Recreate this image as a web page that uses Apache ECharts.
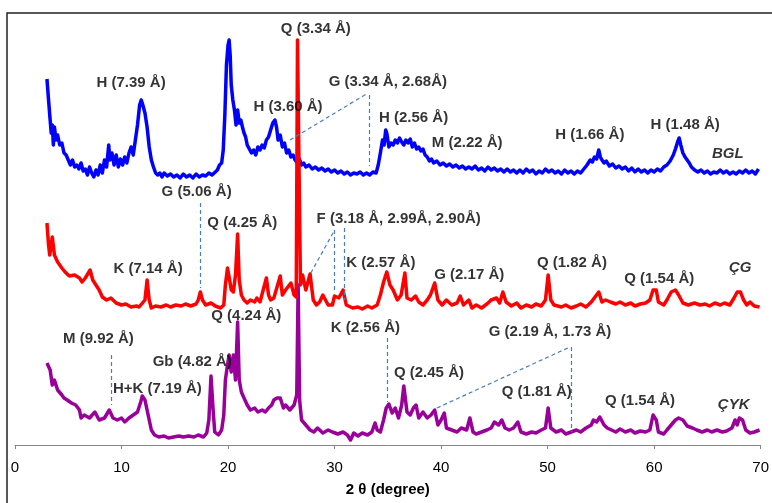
<!DOCTYPE html>
<html>
<head>
<meta charset="utf-8">
<script src="https://cdn.jsdelivr.net/npm/echarts@6/dist/echarts.min.js"></script>
<style>
  html, body { margin: 0; padding: 0; background: #fff; }
  #chart { width: 772px; height: 503px; }
</style>
</head>
<body>
<div id="chart"></div>
<script>
// 2θ (degree) vs intensity (arbitrary, offset traces)
const bglData = [
  [3.0,366],[3.15,345],[3.3,325],[3.4,312],[3.5,320],[3.6,300],[3.7,318],[3.85,305],[4.0,310],[4.2,300],
  [4.4,302],[4.6,292],[4.8,290],[5.0,285],[5.2,280],[5.4,285],[5.6,278],[5.8,280],[6.0,276],[6.2,282],
  [6.4,274],[6.6,276],[6.8,270],[7.0,278],[7.2,272],[7.4,268],[7.6,275],[7.8,270],[8.0,280],[8.2,272],
  [8.4,285],[8.6,278],[8.8,300],[8.9,285],[9.1,292],[9.3,280],[9.5,290],[9.7,278],[9.9,286],[10.1,280],
  [10.3,288],[10.5,282],[10.7,292],[10.9,298],[11.1,290],[11.3,305],[11.5,320],[11.7,340],[11.85,345],[12.0,340],
  [12.2,332],[12.4,318],[12.6,298],[12.8,285],[13.0,278],[13.2,272],[13.4,270],[13.6,272],[13.8,268],[14.0,272],
  [14.3,269],[14.6,271],[14.9,268],[15.2,270],[15.5,267],[15.8,271],[16.1,268],[16.4,270],[16.7,267],[17.0,271],
  [17.3,268],[17.6,270],[17.9,269],[18.2,272],[18.5,270],[18.8,273],[19.0,275],[19.2,280],[19.4,282],[19.55,295],
  [19.7,330],[19.85,380],[20.0,400],[20.1,405],[20.2,390],[20.3,360],[20.45,345],[20.6,335],[20.75,320],[20.9,335],
  [21.05,322],[21.2,325],[21.35,318],[21.5,312],[21.65,308],[21.8,300],[22.0,296],[22.2,292],[22.4,295],[22.6,290],
  [22.8,298],[23.0,295],[23.2,300],[23.4,297],[23.6,305],[23.8,308],[24.0,315],[24.2,322],[24.4,325],[24.55,318],
  [24.7,305],[24.9,310],[25.1,298],[25.3,302],[25.5,292],[25.7,295],[25.9,288],[26.1,290],[26.3,285],[26.5,282],
  [26.7,286],[26.9,280],[27.1,282],[27.3,278],[27.6,280],[27.9,276],[28.2,278],[28.5,275],[28.8,277],[29.1,274],
  [29.4,276],[29.7,273],[30.0,275],[30.3,272],[30.6,274],[30.9,271],[31.2,273],[31.5,270],[31.8,272],[32.1,271],
  [32.4,273],[32.7,270],[33.0,272],[33.3,270],[33.6,273],[33.9,272],[34.1,280],[34.3,292],[34.5,305],[34.65,300],
  [34.8,315],[34.9,312],[35.1,298],[35.3,302],[35.5,300],[35.7,305],[35.9,302],[36.1,307],[36.3,303],[36.5,300],
  [36.7,305],[36.9,302],[37.1,306],[37.3,298],[37.5,302],[37.7,296],[37.9,298],[38.1,294],[38.3,296],[38.5,290],
  [38.7,288],[38.9,284],[39.1,286],[39.3,282],[39.6,284],[39.9,280],[40.2,282],[40.5,279],[40.8,281],[41.1,278],
  [41.4,280],[41.7,277],[42.0,279],[42.3,276],[42.6,278],[42.9,276],[43.2,279],[43.5,275],[43.8,277],[44.1,274],
  [44.4,278],[44.7,275],[45.0,277],[45.3,274],[45.6,276],[45.9,273],[46.2,276],[46.5,273],[46.8,275],[47.1,272],
  [47.4,275],[47.7,272],[48.0,276],[48.3,273],[48.6,275],[48.9,271],[49.2,274],[49.5,272],[49.8,276],[50.1,273],
  [50.4,275],[50.7,272],[51.0,274],[51.3,271],[51.6,275],[51.9,272],[52.2,274],[52.5,271],[52.8,274],[53.1,272],
  [53.4,276],[53.7,280],[54.0,285],[54.2,283],[54.4,288],[54.6,286],[54.8,295],[54.95,288],[55.1,285],[55.3,282],
  [55.5,284],[55.8,279],[56.1,281],[56.4,277],[56.7,279],[57.0,276],[57.3,278],[57.6,274],[57.9,277],[58.2,273],
  [58.5,276],[58.8,273],[59.1,275],[59.4,272],[59.7,275],[60.0,273],[60.3,276],[60.6,274],[60.9,278],[61.2,280],
  [61.5,284],[61.8,290],[62.0,296],[62.2,303],[62.35,307],[62.5,300],[62.7,292],[62.9,288],[63.1,285],[63.3,282],
  [63.5,278],[63.8,275],[64.1,273],[64.4,275],[64.7,272],[65.0,274],[65.3,271],[65.6,273],[65.9,272],[66.2,275],
  [66.5,272],[66.8,274],[67.1,271],[67.4,273],[67.7,271],[68.0,274],[68.3,272],[68.6,275],[68.9,272],[69.2,274],
  [69.5,271],[69.8,276]
];

const cgData = [
  [3.0,222],[3.15,200],[3.26,190],[3.5,208],[3.7,190],[4.0,183],[4.4,177],[4.7,173],[5.1,169],[5.6,170],
  [6.05,167],[6.3,163],[6.6,167],[7.05,175],[7.3,165],[7.6,160],[7.9,155],[8.2,148],[8.6,145],[9.0,147],
  [9.5,142],[10.0,140],[10.4,141],[10.9,138],[11.4,139],[11.65,138],[12.2,145],[12.4,165],[12.6,145],[12.8,137],
  [13.2,139],[13.7,138],[14.2,140],[14.6,138],[15.1,140],[15.6,139],[16.0,141],[16.5,139],[17.0,141],[17.2,145],
  [17.4,153],[17.6,145],[17.9,140],[18.4,142],[18.8,139],[19.3,137],[19.6,140],[19.75,160],[19.95,177],[20.15,165],
  [20.3,155],[20.5,153],[20.7,170],[20.9,211],[21.05,165],[21.25,150],[21.5,145],[21.8,142],[22.1,145],[22.5,143],
  [22.7,147],[23.0,143],[23.3,155],[23.6,167],[23.8,150],[24.0,145],[24.3,147],[24.9,169],[25.1,150],[25.4,155],
  [25.9,162],[26.2,150],[26.4,148],[26.52,405],[26.66,405],[26.8,160],[27.0,170],[27.3,155],[27.7,171],[28.0,145],[28.3,140],
  [28.6,143],[28.9,150],[29.4,140],[29.8,140],[30.0,149],[30.4,147],[30.8,155],[31.1,140],[31.7,137],[32.2,138],
  [32.6,136],[33.1,139],[33.5,137],[34.0,140],[34.3,150],[34.6,163],[34.9,173],[35.2,160],[35.5,155],[35.9,145],
  [36.25,150],[36.6,172],[36.8,147],[37.2,145],[37.6,149],[37.9,143],[38.3,140],[38.7,145],[39.0,150],[39.4,162],
  [39.7,145],[40.1,140],[40.5,145],[41.0,140],[41.5,142],[41.8,149],[42.1,140],[42.6,145],[42.9,137],[43.3,140],
  [43.8,137],[44.3,141],[44.7,145],[45.2,147],[45.5,142],[45.8,153],[46.1,143],[46.6,139],[47.1,142],[47.5,137],
  [48.0,140],[48.5,138],[48.9,141],[49.4,139],[49.8,145],[50.05,170],[50.3,145],[50.6,140],[51.3,138],[51.7,140],
  [52.2,137],[52.7,139],[53.1,141],[53.6,138],[54.1,143],[54.8,153],[55.1,143],[55.45,145],[55.9,143],[56.4,141],
  [56.8,143],[57.3,140],[57.8,142],[58.2,139],[58.7,141],[59.2,142],[59.6,145],[59.9,155],[60.2,155],[60.4,143],
  [60.9,140],[61.2,145],[61.6,153],[62.0,155],[62.3,150],[62.7,142],[63.2,140],[63.8,142],[64.3,140],[64.8,141],
  [65.2,139],[65.7,142],[66.2,140],[66.6,142],[67.1,140],[67.5,147],[67.8,153],[68.1,153],[68.4,145],[68.7,140],
  [69.0,143],[69.4,139],[69.9,138]
];

const cykData = [
  [3.0,82],[3.3,75],[3.5,60],[3.7,65],[4.0,55],[4.4,50],[4.6,47],[4.9,45],[5.3,42],[5.7,40],
  [6.05,35],[6.2,27],[6.5,30],[7.0,27],[7.5,33],[7.9,25],[8.4,27],[8.85,35],[9.2,27],[9.6,25],
  [10.0,27],[10.3,23],[10.7,27],[11.1,30],[11.5,33],[11.8,43],[11.95,49],[12.2,45],[12.4,35],[12.8,15],
  [13.1,10],[13.5,8],[14.0,9],[14.4,7],[14.9,8],[15.4,9],[15.8,8],[16.3,9],[16.8,8],[17.2,10],
  [17.7,8],[18.0,12],[18.2,25],[18.4,69],[18.6,35],[18.75,13],[19.1,10],[19.4,15],[19.6,30],[19.75,65],
  [19.95,80],[20.1,90],[20.3,73],[20.5,90],[20.7,65],[20.9,123],[21.05,65],[21.25,53],[21.5,47],[21.8,40],
  [22.1,35],[22.5,37],[22.8,33],[23.2,35],[23.5,33],[23.8,37],[24.1,40],[24.3,45],[24.6,47],[24.9,47],
  [25.2,37],[25.4,40],[25.8,35],[26.2,40],[26.45,50],[26.58,160],[26.72,45],[26.9,25],[27.3,20],[27.7,15],
  [28.05,13],[28.4,17],[28.9,12],[29.4,15],[29.8,13],[30.3,11],[30.8,13],[31.2,10],[31.5,5],[31.8,12],
  [32.2,9],[32.6,12],[33.1,10],[33.5,13],[33.8,22],[34.0,15],[34.3,13],[34.6,25],[34.85,37],[35.1,41],
  [35.4,32],[35.7,37],[36.0,27],[36.3,40],[36.5,59],[36.8,33],[37.1,30],[37.4,37],[37.65,40],[37.9,27],
  [38.3,33],[38.7,27],[39.05,30],[39.4,35],[39.7,20],[40.0,25],[40.3,32],[40.5,17],[41.0,15],[41.5,13],
  [41.9,17],[42.4,15],[42.7,27],[43.0,13],[43.3,11],[43.8,13],[44.3,15],[44.7,17],[45.0,23],[45.4,20],
  [45.7,25],[46.0,17],[46.4,15],[46.8,17],[47.2,23],[47.5,13],[48.0,11],[48.5,13],[48.9,12],[49.4,15],
  [49.8,17],[50.05,37],[50.3,17],[50.8,13],[51.3,15],[51.7,11],[52.2,13],[52.7,15],[53.1,13],[53.6,17],
  [54.1,20],[54.3,25],[54.6,23],[54.9,28],[55.3,20],[55.6,17],[56.0,15],[56.4,13],[56.8,16],[57.3,13],
  [57.8,15],[58.2,12],[58.7,14],[59.2,13],[59.6,15],[59.9,30],[60.2,25],[60.4,13],[60.9,11],[61.2,15],
  [61.6,20],[62.0,25],[62.3,27],[62.7,25],[63.1,19],[63.6,17],[64.0,15],[64.5,13],[65.0,15],[65.4,13],
  [65.9,15],[66.4,13],[66.8,14],[67.3,17],[67.6,25],[67.8,20],[68.0,27],[68.3,25],[68.6,15],[69.0,12],
  [69.4,13],[69.9,15]
];

// peak annotations: [2θ, intensity, text]
const peakLabels = [
  [10.9, 362, "H (7.39 Å)"],
  [28.24, 416, "Q (3.34 Å)"],
  [35.0, 363, "G (3.34 Å, 2.68Å)"],
  [25.63, 338, "H (3.60 Å)"],
  [37.42, 327, "H (2.56 Å)"],
  [42.45, 302, "M (2.22 Å)"],
  [53.96, 310, "H (1.66 Å)"],
  [62.91, 320, "H (1.48 Å)"],
  [17.05, 253, "G (5.06 Å)"],
  [21.34, 222, "Q (4.25 Å)"],
  [12.49, 176, "K (7.14 Å)"],
  [36.02, 226, "F (3.18 Å, 2.99Å, 2.90Å)"],
  [34.34, 182, "K (2.57 Å)"],
  [42.64, 170, "G (2.17 Å)"],
  [52.28, 182, "Q (1.82 Å)"],
  [60.48, 166, "Q (1.54 Å)"],
  [21.71, 129, "Q (4.24 Å)"],
  [7.83, 106, "M (9.92 Å)"],
  [16.64, 83, "Gb (4.82 Å)"],
  [13.37, 56, "H+K (7.19 Å)"],
  [32.9, 117, "K (2.56 Å)"],
  [50.23, 113, "G (2.19 Å, 1.73 Å)"],
  [38.86, 72, "Q (2.45 Å)"],
  [48.98, 53, "Q (1.81 Å)"],
  [58.67, 44, "Q (1.54 Å)"]
];

const sampleLabels = [
  [66.92, 291, "BGL"],
  [68.08, 177, "ÇG"],
  [67.47, 40, "ÇYK"]
];

// dashed guide lines: [[2θ1, I1], [2θ2, I2]]
const guideLines = [
  [[25.82, 305], [32.99, 351]],
  [[33.27, 350], [33.27, 279]],
  [[17.43, 242], [17.43, 157]],
  [[27.77, 172], [30.01, 215]],
  [[30.01, 215], [30.01, 155]],
  [[30.94, 217], [30.94, 145]],
  [[9.01, 90], [9.01, 40]],
  [[34.95, 107], [34.95, 43]],
  [[39.61, 37], [52.1, 98]],
  [[52.19, 98], [52.19, 13]]
];

const chart = echarts.init(document.getElementById("chart"));

const traceLine = (name, data, color) => ({
  name,
  type: "line",
  data,
  showSymbol: false,
  symbol: "none",
  lineStyle: { color, width: 3.5, join: "round" },
  itemStyle: { color },
  animation: false,
});

const labelSeries = (name, data, italic) => ({
  name,
  type: "scatter",
  data: data.map((d) => ({ value: [d[0], d[1]], text: d[2] })),
  symbolSize: 1,
  itemStyle: { color: "transparent" },
  z: 10,
  silent: true,
  animation: false,
  label: {
    show: true,
    position: "inside",
    formatter: (p) => p.data.text,
    color: "#000",
    fontFamily: "Liberation Sans, Arial, sans-serif",
    fontWeight: "bold",
    fontStyle: italic ? "italic" : "normal",
    fontSize: 15,
  },
});

const option = {
  backgroundColor: "#fff",
  grid: { left: 15, right: 6, top: 13, bottom: 58 },
  xAxis: {
    type: "value",
    min: 0,
    max: 70,
    interval: 10,
    name: "2 θ (degree)",
    nameLocation: "middle",
    nameGap: 37,
    nameTextStyle: {
      color: "#000",
      fontFamily: "Liberation Sans, Arial, sans-serif",
      fontWeight: "bold",
      fontSize: 15,
    },
    axisLine: { onZero: false, lineStyle: { color: "#868686", width: 1 } },
    axisTick: { show: true, length: 4, lineStyle: { color: "#868686" } },
    axisLabel: {
      margin: 15,
      color: "#000",
      fontFamily: "Liberation Sans, Arial, sans-serif",
      fontSize: 15,
    },
    splitLine: { show: false },
  },
  yAxis: {
    type: "value",
    min: 0,
    max: 432,
    show: false,
    splitLine: { show: false },
  },
  graphic: [
    {
      type: "polyline",
      shape: { points: [[7, 503], [7, 13], [772, 13]] },
      style: { stroke: "#222", lineWidth: 1.5, fill: null },
      silent: true,
    },
  ],
  series: [
    {
      ...traceLine("BGL", bglData, "#0000ff"),
      markLine: {
        silent: true,
        symbol: ["none", "none"],
        label: { show: false },
        animation: false,
        lineStyle: { color: "#4a7ebb", width: 1.2, type: [4, 3] },
        data: guideLines.map((l) => [{ coord: l[0] }, { coord: l[1] }]),
      },
    },
    traceLine("ÇYK", cykData, "#990099"),
    traceLine("ÇG", cgData, "#ff0000"),
    labelSeries("peaks", peakLabels, false),
    labelSeries("samples", sampleLabels, true),
  ],
};

chart.setOption(option);
</script>
</body>
</html>
